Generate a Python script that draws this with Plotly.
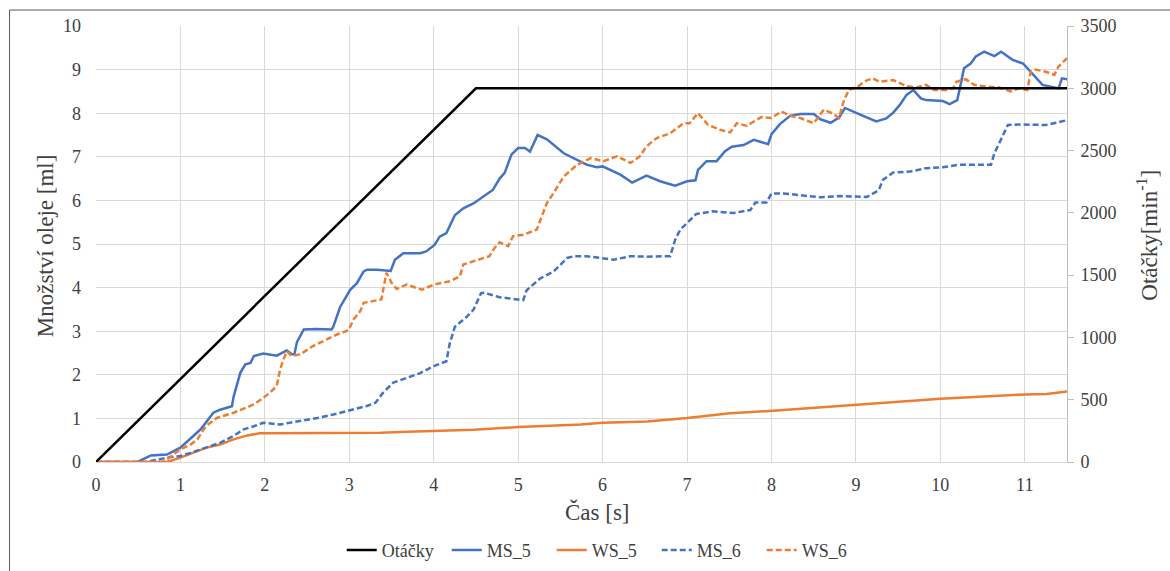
import plotly.graph_objects as go

# Time [s] and oil quantity [ml] for each measurement series
ms5_t = [0, 0.49, 0.65, 0.84, 1.0, 1.16, 1.24, 1.39, 1.47, 1.61,
         1.63, 1.71, 1.77, 1.83, 1.87, 1.98, 2.14, 2.26, 2.32, 2.35,
         2.38, 2.46, 2.61, 2.79, 2.81, 2.89, 3.01, 3.09, 3.17, 3.21,
         3.33, 3.49, 3.54, 3.64, 3.84, 3.91, 4.01, 4.07, 4.15, 4.25,
         4.35, 4.47, 4.58, 4.7, 4.78, 4.84, 4.92, 5.0, 5.08, 5.14,
         5.23, 5.34, 5.54, 5.66, 5.81, 5.93, 6.0, 6.21, 6.35, 6.52,
         6.68, 6.86, 7.0, 7.1, 7.13, 7.23, 7.35, 7.45, 7.53, 7.67,
         7.79, 7.96, 8.0, 8.1, 8.22, 8.34, 8.5, 8.58, 8.7, 8.8,
         8.87, 9.01, 9.13, 9.24, 9.36, 9.44, 9.52, 9.6, 9.68, 9.77,
         9.83, 10.03, 10.11, 10.2, 10.24, 10.28, 10.36, 10.42, 10.52, 10.64,
         10.72, 10.86, 10.98, 11.09, 11.21, 11.31, 11.4, 11.44, 11.5]
ms5_v = [0, 0, 0.15, 0.17, 0.33, 0.6, 0.75, 1.13, 1.2, 1.28,
         1.5, 2.05, 2.24, 2.27, 2.43, 2.49, 2.44, 2.56, 2.47, 2.47,
         2.75, 3.04, 3.05, 3.04, 3.1, 3.55, 3.95, 4.1, 4.37, 4.41,
         4.41, 4.38, 4.64, 4.79, 4.79, 4.83, 4.98, 5.17, 5.25, 5.66,
         5.82, 5.93, 6.08, 6.24, 6.5, 6.63, 7.05, 7.2, 7.2, 7.12,
         7.5, 7.4, 7.08, 6.97, 6.82, 6.76, 6.78, 6.59, 6.41, 6.57,
         6.44, 6.34, 6.44, 6.46, 6.7, 6.9, 6.9, 7.13, 7.23, 7.27,
         7.39, 7.29, 7.52, 7.75, 7.94, 7.98, 7.98, 7.86, 7.78, 7.9,
         8.12, 8.0, 7.91, 7.81, 7.88, 8.01, 8.19, 8.42, 8.53, 8.34,
         8.3, 8.28, 8.21, 8.3, 8.65, 9.03, 9.14, 9.3, 9.41, 9.31,
         9.41, 9.22, 9.14, 8.91, 8.65, 8.61, 8.57, 8.8, 8.78]

ws5_t = [0, 0.84, 1.0, 1.16, 1.31, 1.47, 1.63, 1.79, 1.94, 2.02,
         2.81, 3.37, 3.6, 4.0, 4.47, 5.0, 5.74, 6.0, 6.53, 7.0,
         7.51, 7.98, 9.0, 10.0, 11.0, 11.26, 11.5]
ws5_v = [0, 0, 0.1, 0.21, 0.33, 0.4, 0.52, 0.61, 0.66, 0.66,
         0.66, 0.67, 0.69, 0.72, 0.74, 0.8, 0.86, 0.9, 0.93, 1.01,
         1.12, 1.17, 1.32, 1.45, 1.55, 1.56, 1.62]

ms6_t = [0, 0.6, 0.84, 1.0, 1.12, 1.24, 1.47, 1.63, 1.75, 1.87,
         1.98, 2.18, 2.42, 2.65, 2.81, 2.97, 3.2, 3.31, 3.4, 3.52,
         3.68, 3.84, 4.0, 4.15, 4.19, 4.25, 4.39, 4.47, 4.56, 4.6,
         4.78, 5.06, 5.1, 5.26, 5.42, 5.5, 5.58, 5.66, 5.81, 5.97,
         6.13, 6.33, 6.52, 6.8, 6.86, 6.92, 7.0, 7.11, 7.31, 7.55,
         7.75, 7.81, 7.94, 8.0, 8.14, 8.3, 8.58, 8.81, 9.13, 9.27,
         9.32, 9.44, 9.64, 9.83, 10.03, 10.22, 10.42, 10.6, 10.64, 10.7,
         10.8, 10.93, 11.09, 11.25, 11.37, 11.5]
ms6_v = [0, 0, 0.1, 0.14, 0.21, 0.29, 0.44, 0.6, 0.75, 0.82,
         0.9, 0.86, 0.94, 1.02, 1.09, 1.17, 1.28, 1.36, 1.59, 1.82,
         1.93, 2.04, 2.2, 2.31, 2.72, 3.1, 3.33, 3.49, 3.87, 3.88,
         3.78, 3.71, 3.94, 4.21, 4.37, 4.53, 4.68, 4.72, 4.72, 4.68,
         4.64, 4.72, 4.71, 4.72, 5.1, 5.33, 5.48, 5.69, 5.75, 5.71,
         5.78, 5.95, 5.95, 6.16, 6.16, 6.13, 6.07, 6.1, 6.08, 6.23,
         6.47, 6.64, 6.66, 6.74, 6.76, 6.82, 6.82, 6.82, 7.08, 7.31,
         7.73, 7.74, 7.73, 7.73, 7.78, 7.84]

ws6_t = [0, 0.78, 0.84, 1.0, 1.12, 1.2, 1.3, 1.43, 1.63, 1.87,
         1.98, 2.06, 2.14, 2.18, 2.22, 2.26, 2.32, 2.42, 2.57, 2.73,
         2.86, 2.99, 3.05, 3.13, 3.17, 3.28, 3.38, 3.44, 3.5, 3.56,
         3.68, 3.86, 4.0, 4.2, 4.31, 4.35, 4.47, 4.66, 4.72, 4.78,
         4.88, 4.94, 5.06, 5.22, 5.34, 5.42, 5.54, 5.7, 5.86, 6.01,
         6.17, 6.33, 6.44, 6.52, 6.64, 6.8, 6.96, 7.03, 7.13, 7.25,
         7.39, 7.51, 7.59, 7.71, 7.79, 7.88, 8.0, 8.12, 8.22, 8.34,
         8.5, 8.62, 8.72, 8.8, 8.86, 8.92, 9.02, 9.1, 9.2, 9.28,
         9.44, 9.6, 9.72, 9.83, 9.93, 10.07, 10.15, 10.19, 10.3, 10.4,
         10.54, 10.7, 10.83, 10.93, 11.03, 11.07, 11.13, 11.25, 11.35, 11.4,
         11.5]
ws6_v = [0, 0, 0.06, 0.29, 0.4, 0.52, 0.82, 1.01, 1.13, 1.32,
         1.47, 1.59, 1.74, 2.12, 2.35, 2.54, 2.43, 2.47, 2.66, 2.81,
         2.93, 3.02, 3.27, 3.46, 3.65, 3.69, 3.73, 4.34, 4.11, 3.97,
         4.07, 3.95, 4.07, 4.15, 4.26, 4.53, 4.6, 4.72, 4.91, 5.04,
         4.95, 5.18, 5.21, 5.33, 5.94, 6.17, 6.55, 6.82, 6.97, 6.9,
         7.01, 6.86, 7.01, 7.24, 7.43, 7.54, 7.77, 7.77, 8.0, 7.73,
         7.62, 7.56, 7.77, 7.71, 7.81, 7.91, 7.89, 8.04, 7.94, 7.89,
         7.77, 8.08, 8.0, 7.89, 8.31, 8.54, 8.6, 8.73, 8.8, 8.72,
         8.76, 8.62, 8.59, 8.65, 8.53, 8.53, 8.57, 8.72, 8.78, 8.65,
         8.61, 8.59, 8.5, 8.57, 8.53, 8.95, 9.0, 8.95, 8.88, 9.07,
         9.26]

# Speed profile [min^-1]
rpm_t = [0, 4.5, 11.5]
rpm_v = [0, 3000, 3000]

x_ticks = list(range(0, 12))
y_ticks = list(range(0, 11))
y2_ticks = list(range(0, 3501, 500))

BLUE = "#4472C4"
ORANGE = "#ED7D31"
TEXT = "#404040"
GRID = "#D9D9D9"
FONT = "Liberation Serif"

W, H = 1170, 571
L, R, T, B = 95.5, 1067, 26, 462.5


def px_x(px):
    return (px - L) / (R - L)


def px_y(py):
    return (B - py) / (B - T)


fig = go.Figure()
fig.add_trace(go.Scatter(x=rpm_t, y=rpm_v, name="Otáčky", yaxis="y2",
                         mode="lines", line=dict(color="black", width=2.5)))
fig.add_trace(go.Scatter(x=ms5_t, y=ms5_v, name="MS_5", mode="lines",
                         line=dict(color=BLUE, width=2.5)))
fig.add_trace(go.Scatter(x=ws5_t, y=ws5_v, name="WS_5", mode="lines",
                         line=dict(color=ORANGE, width=2.5)))
fig.add_trace(go.Scatter(x=ms6_t, y=ms6_v, name="MS_6", mode="lines",
                         line=dict(color=BLUE, width=2.5, dash="6px,3px")))
fig.add_trace(go.Scatter(x=ws6_t, y=ws6_v, name="WS_6", mode="lines",
                         line=dict(color=ORANGE, width=2.5, dash="6px,3px")))

fig.update_layout(
    width=W, height=H,
    margin=dict(l=L, r=W - R, t=T, b=H - B, pad=0, autoexpand=False),
    paper_bgcolor="white", plot_bgcolor="white",
    font=dict(family=FONT, color=TEXT, size=18),
    xaxis=dict(range=[0, 11.5], tickvals=x_ticks, showgrid=True,
               gridcolor=GRID, gridwidth=1, zeroline=False,
               showline=True, linecolor=GRID, ticks="", automargin=False,
               ticklabelstandoff=6,
               tickfont=dict(size=18, color=TEXT, family=FONT)),
    yaxis=dict(range=[0, 10], tickvals=y_ticks, showgrid=True,
               gridcolor=GRID, gridwidth=1, zeroline=False,
               showline=False, ticks="", automargin=False,
               ticklabelstandoff=14,
               tickfont=dict(size=18, color=TEXT, family=FONT)),
    yaxis2=dict(range=[0, 3500], tickvals=y2_ticks, overlaying="y",
                side="right", showgrid=False, zeroline=False,
                showline=True, linecolor="#BFBFBF", ticks="outside",
                ticklen=6, tickcolor="#BFBFBF", automargin=False,
                ticklabelstandoff=3,
                tickfont=dict(size=18, color=TEXT, family=FONT)),
    legend=dict(orientation="h", x=px_x(604), y=px_y(551),
                xanchor="center", yanchor="middle",
                font=dict(size=18, color=TEXT, family=FONT),
                bgcolor="rgba(0,0,0,0)", entrywidth=60, itemwidth=30),
    showlegend=True,
)

# Axis titles
fig.add_annotation(text="Množství oleje [ml]", xref="paper", yref="paper",
                   x=px_x(45), y=px_y(246), textangle=-90, showarrow=False,
                   xanchor="center", yanchor="middle",
                   font=dict(size=23, color=TEXT, family=FONT))
fig.add_annotation(text="Otáčky[min<sup>-1</sup>]", xref="paper", yref="paper",
                   x=px_x(1148), y=px_y(235), textangle=-90, showarrow=False,
                   xanchor="center", yanchor="middle",
                   font=dict(size=23, color=TEXT, family=FONT))
fig.add_annotation(text="Čas [s]", xref="paper", yref="paper",
                   x=px_x(597), y=px_y(513), showarrow=False,
                   xanchor="center", yanchor="middle",
                   font=dict(size=23, color=TEXT, family=FONT))

# Chart frame
fig.add_shape(type="line", xref="paper", yref="paper",
              x0=px_x(9), x1=px_x(W + 5), y0=px_y(10), y1=px_y(10),
              line=dict(color="#595959", width=1))
fig.add_shape(type="line", xref="paper", yref="paper",
              x0=px_x(9), x1=px_x(9), y0=px_y(10), y1=px_y(H + 5),
              line=dict(color="#595959", width=1))

fig.write_html("out.html")
